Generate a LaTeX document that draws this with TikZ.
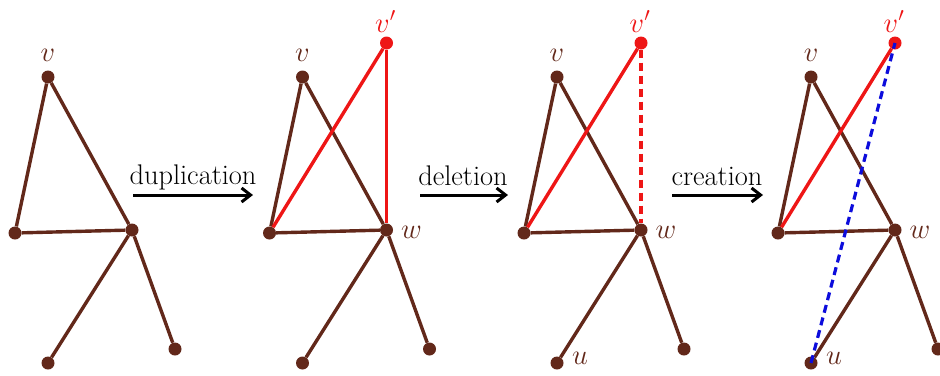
\documentclass[tikz,border=0pt]{standalone}
\usepackage{fontspec}
\usetikzlibrary{arrows.meta}
\definecolor{brn}{RGB}{98,40,26}
\definecolor{rd}{RGB}{238,22,22}
\definecolor{bluedash}{RGB}{12,12,220}
\begin{document}
\begin{tikzpicture}[x=1bp,y=-1bp,
  dot/.style={circle,fill=brn,inner sep=0pt,minimum size=13bp},
  reddot/.style={circle,fill=rd,inner sep=0pt,minimum size=13bp},
  edge/.style={draw=brn,line width=3.4bp},
  redge/.style={draw=rd,line width=3.4bp},
  dashedge/.style={line width=3.2bp,dash pattern=on 8bp off 5bp},
  lbl/.style={inner sep=0pt,anchor=base,scale=1.15,font=\fontsize{24}{28}\selectfont},
  optext/.style={inner sep=0pt,anchor=base,font=\fontsize{28.5}{32}\selectfont},
  oparrow/.style={draw=black,line width=3bp,-{Straight Barb[length=9bp,width=14bp]}}]
\useasboundingbox (0,0) rectangle (940,375);

% graphs
\foreach \k/\dx in {1/0,2/254.5,3/509,4/763}{
  \node[dot] (v\k) at (48+\dx,77) {};
  \node[dot] (l\k) at (15+\dx,233) {};
  \node[dot] (w\k) at (132+\dx,230) {};
  \node[dot] (b\k) at (48+\dx,363) {};
  \node[dot] (r\k) at (175+\dx,349) {};
  \path[edge] (v\k) -- (l\k);
  \path[edge] (v\k) -- (w\k);
  \path[edge] (l\k) -- (w\k);
  \path[edge] (w\k) -- (b\k);
  \path[edge] (w\k) -- (r\k);
  \node[lbl,text=brn] (vl\k) at (48+\dx,61) {$v$};
}
\foreach \k/\dx in {2/254.5,3/509,4/763}{
  \node[reddot] (p\k) at (132+\dx,43) {};
  \path[redge] (l\k) -- (p\k);
  \node[lbl,text=rd] (pl\k) at (131+\dx,32) {$v'$};
  \node[lbl,text=brn] (wl\k) at (157+\dx,238) {$w$};
}
\path[redge] (p2) -- (w2);
\path[redge,dashedge] (p3) -- (w3);
\path[draw=bluedash,dashedge] (b4.center) -- (p4.center);
\node[lbl,text=brn] (ul3) at (580,364) {$u$};
\node[lbl,text=brn] (ul4) at (834,364) {$u$};

% operation arrows
\coordinate (a1s) at (133,195); \coordinate (a1e) at (253,195);
\coordinate (a2s) at (420,195); \coordinate (a2e) at (508,195);
\coordinate (a3s) at (672,195); \coordinate (a3e) at (763,195);
\path[oparrow] (a1s) -- (a1e);
\path[oparrow] (a2s) -- (a2e);
\path[oparrow] (a3s) -- (a3e);
\node[optext] (t1) at (193,184) {duplication};
\node[optext] (t2) at (463,185) {deletion};
\node[optext] (t3) at (717,185) {creation};
\end{tikzpicture}
\end{document}
